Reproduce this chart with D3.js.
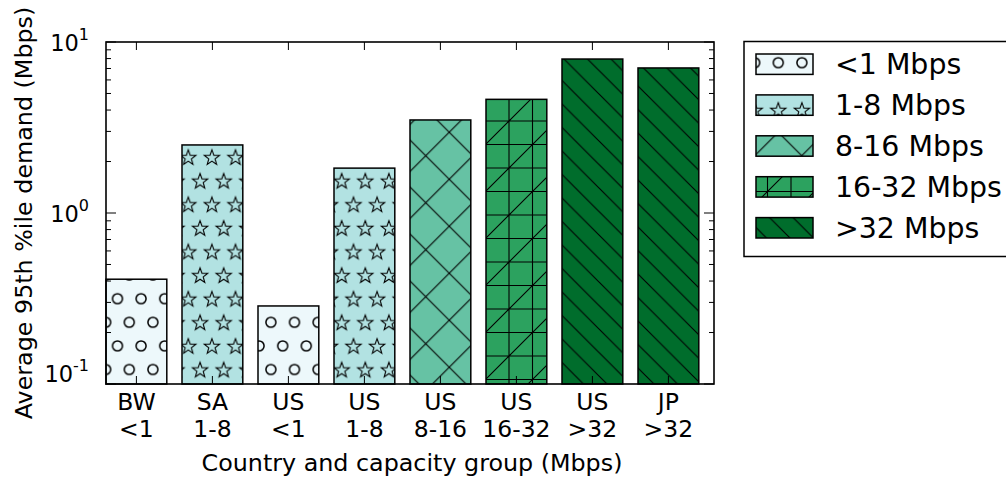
<!DOCTYPE html>
<html>
<head>
<meta charset="utf-8">
<script src="https://cdn.jsdelivr.net/npm/d3@7"></script>
<style>
  body { margin: 0; background: #fff; }
  svg { display: block; font-family: "DejaVu Sans", sans-serif; }
</style>
</head>
<body>
<svg id="chart" width="1006" height="479"></svg>
<script>
// ---- data ----
const countries = ["BW", "SA", "US", "US", "US", "US", "US", "JP"];
const groups    = ["<1", "1-8", "<1", "1-8", "8-16", "16-32", ">32", ">32"];
const demand    = [0.41, 2.5, 0.286, 1.83, 3.5, 4.62, 7.95, 7.05];
const classes   = ["<1", "1-8", "8-16", "16-32", ">32"];
const colors    = ["#edf8fb", "#b2e2e2", "#66c2a4", "#2ca25f", "#006d2c"];
const yTicks    = [0.1, 1, 10];

const svg = d3.select("#chart");
const plot = { left: 106, right: 714, top: 42, bottom: 384 };

const x = d3.scaleLinear().domain([0, 8]).range([plot.left, plot.right]);
const y = d3.scaleLog().domain([0.1, 10]).range([plot.bottom, plot.top]);

// -----------------------------
// Hatch patterns (anchored to the page like matplotlib)
// -----------------------------
const defs = svg.append("defs");
const P = 23.6;   // dot/star lattice
const D = 47;     // diagonal unit

function starPath(cx, cy, R, r) {
    let d = "";
    for (let k = 0; k < 10; k++) {
        const a = -Math.PI / 2 + k * Math.PI / 5;
        const rr = k % 2 === 0 ? R : r;
        d += (k === 0 ? "M" : "L") + (cx + rr * Math.cos(a)).toFixed(2) + "," + (cy + rr * Math.sin(a)).toFixed(2);
    }
    return d + "Z";
}

function latticePattern(id, fill, drawMark) {
    const p = defs.append("pattern")
        .attr("id", id)
        .attr("patternUnits", "userSpaceOnUse")
        .attr("x", 117.5).attr("y", 298.7)
        .attr("width", P).attr("height", 2 * P);
    p.append("rect").attr("width", P).attr("height", 2 * P).attr("fill", fill);
    [[0, 0], [P, 0], [0, 2 * P], [P, 2 * P], [P / 2, P]].forEach(([cx, cy]) => drawMark(p, cx, cy));
}

latticePattern("h0", colors[0], (p, cx, cy) => {
    p.append("circle").attr("cx", cx).attr("cy", cy).attr("r", 5)
        .attr("fill", "none").attr("stroke", "#000").attr("stroke-width", 1.5);
});
latticePattern("h1", colors[1], (p, cx, cy) => {
    p.append("path").attr("d", starPath(cx, cy + 0.8, 8, 3.3))
        .attr("fill", "none").attr("stroke", "#000").attr("stroke-width", 1.1);
});

function linePattern(id, fill, size, x0, y0, d) {
    const p = defs.append("pattern")
        .attr("id", id)
        .attr("patternUnits", "userSpaceOnUse")
        .attr("x", x0).attr("y", y0)
        .attr("width", size).attr("height", size);
    p.append("rect").attr("width", size).attr("height", size).attr("fill", fill);
    p.append("path").attr("d", d).attr("fill", "none")
        .attr("stroke", "#000").attr("stroke-width", 1.1);
}

const S = D, h = D / 2;
// 'x' crosshatch
linePattern("h2", colors[2], D, 402.25, 132.25,
    `M0,0L${S},${S}M${-h},${h}L${h},${S + h}M${h},${-h}L${S + h},${h}` +
    `M0,${S}L${S},0M${-h},${h}L${h},${-h}M${h},${S + h}L${S + h},${h}`);
// '+' grid plus '/' diagonal
linePattern("h3", colors[3], D, 509, 121,
    `M0,0V${S}M${h},0V${S}M${S},0V${S}M0,0H${S}M0,${h}H${S}M0,${S}H${S}` +
    `M0,${S}L${S},0M${-h},${h}L${h},${-h}M${h},${S + h}L${S + h},${h}`);
// '\\' dense back-diagonal
const d2 = D / 2, hh = d2 / 2;
linePattern("h4", colors[4], d2, 270, 0,
    `M0,0L${d2},${d2}M${-hh},${hh}L${hh},${d2 + hh}M${hh},${-hh}L${d2 + hh},${hh}`);

const fillFor = g => `url(#h${classes.indexOf(g)})`;

// -----------------------------
// Bars
// -----------------------------
const bars = countries.map((c, i) => ({ i, c, g: groups[i], v: demand[i] }));

svg.append("g").attr("class", "bars")
    .selectAll("rect")
    .data(bars)
    .join("rect")
    .attr("x", d => x(d.i))
    .attr("width", x(0.8) - x(0))
    .attr("y", d => y(d.v))
    .attr("height", d => y(0.1) - y(d.v))
    .attr("fill", d => fillFor(d.g))
    .attr("stroke", "#000")
    .attr("stroke-width", 1.5);

// -----------------------------
// Axes frame + ticks (inward, like classic matplotlib)
// -----------------------------
const axG = svg.append("g").attr("class", "axes");
axG.append("rect")
    .attr("x", plot.left).attr("y", plot.top)
    .attr("width", plot.right - plot.left).attr("height", plot.bottom - plot.top)
    .attr("fill", "none").attr("stroke", "#000").attr("stroke-width", 1.6);

// y minor + major ticks
const minor = [];
[0.1, 1].forEach(b => { for (let k = 2; k <= 9; k++) minor.push(b * k); });
minor.forEach(v => {
    axG.append("line").attr("x1", plot.left).attr("x2", plot.left + 5).attr("y1", y(v)).attr("y2", y(v))
        .attr("stroke", "#000").attr("stroke-width", 1);
    axG.append("line").attr("x1", plot.right).attr("x2", plot.right - 5).attr("y1", y(v)).attr("y2", y(v))
        .attr("stroke", "#000").attr("stroke-width", 1);
});
yTicks.forEach(v => {
    axG.append("line").attr("x1", plot.left).attr("x2", plot.left + 10).attr("y1", y(v)).attr("y2", y(v))
        .attr("stroke", "#000").attr("stroke-width", 1);
    axG.append("line").attr("x1", plot.right).attr("x2", plot.right - 10).attr("y1", y(v)).attr("y2", y(v))
        .attr("stroke", "#000").attr("stroke-width", 1);
});

// x ticks at bar centres, top and bottom
bars.forEach(d => {
    const cx = x(d.i + 0.4);
    axG.append("line").attr("x1", cx).attr("x2", cx).attr("y1", plot.bottom).attr("y2", plot.bottom - 8)
        .attr("stroke", "#000").attr("stroke-width", 1);
    axG.append("line").attr("x1", cx).attr("x2", cx).attr("y1", plot.top).attr("y2", plot.top + 8)
        .attr("stroke", "#000").attr("stroke-width", 1);
});

// y tick labels 10^n
yTicks.forEach(v => {
    const e = Math.round(Math.log10(v));
    const t = svg.append("text")
        .attr("x", 89)
        .attr("y", y(v) + (e < 0 ? -2 : 9))
        .attr("text-anchor", "end")
        .attr("font-size", 22.5);
    t.append("tspan").text("10");
    t.append("tspan").attr("font-size", 16).attr("dy", -11).text(e < 0 ? "-1" : String(e));
});

// x tick labels (two lines)
const xl = svg.append("g").attr("font-size", 23.5).attr("text-anchor", "middle");
bars.forEach(d => {
    const cx = x(d.i + 0.4);
    xl.append("text").attr("x", cx).attr("y", 410).text(d.c);
    xl.append("text").attr("x", cx).attr("y", 437).text(d.g);
});

// axis titles
svg.append("text")
    .attr("x", (plot.left + plot.right) / 2 + 2).attr("y", 471)
    .attr("text-anchor", "middle").attr("font-size", 23.8)
    .text("Country and capacity group (Mbps)");

svg.append("text")
    .attr("transform", `translate(32,${(plot.top + plot.bottom) / 2}) rotate(-90)`)
    .attr("text-anchor", "middle").attr("font-size", 23.8)
    .text("Average 95th %ile demand (Mbps)");

// -----------------------------
// Legend
// -----------------------------
const lg = svg.append("g").attr("class", "legend");
lg.append("rect")
    .attr("x", 744).attr("y", 41.5).attr("width", 280).attr("height", 215)
    .attr("fill", "#fff").attr("stroke", "#000").attr("stroke-width", 1.5);

classes.forEach((c, k) => {
    const cy = 64.2 + k * 40.9;
    lg.append("rect")
        .attr("x", 756).attr("y", cy - 10.2).attr("width", 57).attr("height", 20.4)
        .attr("fill", `url(#h${k})`).attr("stroke", "#000").attr("stroke-width", 1.5);
    lg.append("text")
        .attr("x", 835).attr("y", cy + 10)
        .attr("font-size", 28.4)
        .text(`${c} Mbps`);
});
</script>
</body>
</html>
